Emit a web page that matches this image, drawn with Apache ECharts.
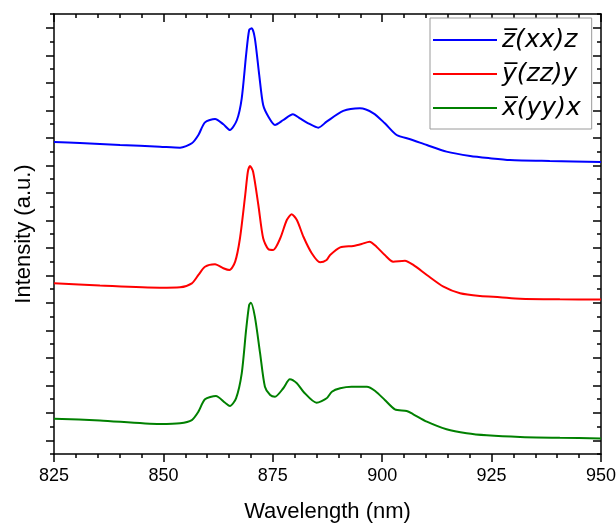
<!DOCTYPE html>
<html>
<head>
<meta charset="utf-8">
<script src="https://cdn.jsdelivr.net/npm/echarts@6/dist/echarts.min.js"></script>
<style>
  html, body { margin: 0; padding: 0; background: #fff; }
  #myChart { width: 616px; height: 523px; }
</style>
</head>
<body>
<div id="myChart"></div>
<script>
// 数据 (intensity in arbitrary units, curves offset vertically)
const blueX = [825, 830.9, 840.1, 849.2, 853.8, 856.5, 858.0, 859.5, 861.8, 863.7, 865.2, 866.8, 867.9, 868.9, 869.6, 870.2, 870.9, 871.9, 872.8, 874.0, 875.5, 877.4, 879.6, 881.2, 883.1, 885.4, 887.3, 891.1, 894.9, 898.0, 900.6, 903.3, 906.4, 910.2, 914.7, 920.1, 924.6, 929.2, 938.3, 950]
const blueY = [22.69, 22.62, 22.47, 22.35, 22.28, 22.60, 23.20, 24.12, 24.36, 23.98, 23.56, 24.29, 25.87, 29.02, 30.84, 30.96, 30.23, 27.56, 25.38, 24.53, 23.93, 24.29, 24.71, 24.41, 24.05, 23.73, 24.17, 24.95, 25.14, 24.78, 24.05, 23.20, 22.89, 22.47, 21.99, 21.67, 21.51, 21.38, 21.31, 21.24]

const redX = [825, 835.5, 849.2, 853.8, 856.5, 858.0, 859.5, 861.8, 863.7, 865.1, 866.4, 867.5, 868.7, 869.3, 869.8, 870.5, 871.7, 872.8, 874.0, 875.1, 876.7, 878.2, 879.3, 880.5, 882.0, 883.9, 885.8, 887.3, 888.1, 890.4, 893.4, 895.3, 897.1, 898.7, 900.6, 902.5, 905.2, 907.1, 910.2, 914.0, 917.8, 922.4, 926.9, 931.5, 940.6, 950]
const redY = [12.41, 12.25, 12.09, 12.12, 12.41, 13.02, 13.62, 13.80, 13.51, 13.38, 13.99, 15.69, 18.84, 20.53, 20.95, 20.53, 18.11, 15.69, 14.89, 14.84, 15.69, 17.02, 17.43, 17.02, 15.80, 14.60, 13.94, 14.11, 14.47, 15.03, 15.13, 15.27, 15.44, 15.08, 14.47, 13.99, 14.06, 13.75, 13.02, 12.17, 11.69, 11.49, 11.40, 11.29, 11.25, 11.24]

const greenX = [825, 835.5, 849.2, 853.8, 856.5, 858.0, 859.5, 862.0, 864.1, 865.2, 866.6, 867.9, 868.9, 869.6, 870.0, 870.9, 872.1, 873.2, 874.4, 875.5, 877.4, 878.9, 880.5, 882.0, 885.0, 887.3, 888.5, 890.4, 893.0, 896.5, 898.4, 900.6, 902.9, 905.6, 907.1, 910.2, 914.7, 919.3, 923.9, 931.5, 940.6, 950]
const greenY = [2.57, 2.44, 2.18, 2.23, 2.47, 3.08, 3.98, 4.22, 3.73, 3.49, 4.05, 5.87, 9.02, 10.84, 11.00, 9.99, 7.32, 4.89, 4.29, 4.17, 4.78, 5.43, 5.14, 4.53, 3.73, 4.05, 4.53, 4.78, 4.89, 4.89, 4.58, 3.93, 3.25, 3.13, 2.89, 2.35, 1.80, 1.51, 1.36, 1.24, 1.18, 1.13]

const seriesNames = ['z\u0305(xx)z', 'y\u0305(zz)y', 'x\u0305(yy)x']
const xTicks = [825, 850, 875, 900, 925, 950]
const yMajorTicks = [1, 3, 5, 7, 9, 11, 13, 15, 17, 19, 21, 23, 25, 27, 29, 31]

const pairs = (xs, ys) => xs.map((x, i) => [x, ys[i]])

let myChart = echarts.init(document.getElementById('myChart'))

const lineStyle = { color: '#000', width: 1.5 }
const baseX = {
    type: 'value',
    min: xTicks[0],
    max: xTicks[xTicks.length - 1],
    interval: 25,
    splitLine: { show: false },
    axisLine: { show: true, onZero: false, lineStyle: lineStyle },
    minorTick: { show: true, splitNumber: 5, length: 4, lineStyle: lineStyle },
}
const baseY = {
    type: 'value',
    min: 0,
    max: 32,
    interval: 1,
    splitLine: { show: false },
    axisLabel: { show: false },
}

let option = {
    animation: false,
    grid: { left: 54, right: 15, top: 14, bottom: 69, containLabel: false, outerBoundsMode: 'none' },
    xAxis: [
        Object.assign({}, baseX, {
            position: 'bottom',
            axisTick: { show: true, inside: false, length: 8, lineStyle: lineStyle },
            axisLabel: { color: '#000', fontSize: 18, fontFamily: 'Liberation Sans', margin: 13 },
            name: 'Wavelength (nm)',
            nameLocation: 'middle',
            nameGap: 47,
            nameTextStyle: { color: '#000', fontSize: 22, fontFamily: 'Liberation Sans' },
        }),
        Object.assign({}, baseX, {
            position: 'top',
            axisTick: { show: true, inside: true, length: 8, lineStyle: lineStyle },
            axisLabel: { show: false },
        }),
    ],
    yAxis: [
        Object.assign({}, baseY, {
            position: 'left',
            axisLine: { show: true, onZero: false, lineStyle: lineStyle },
            axisTick: { show: true, length: 4, lineStyle: lineStyle },
            name: 'Intensity (a.u.)',
            nameLocation: 'middle',
            nameGap: 19,
            nameTextStyle: { color: '#000', fontSize: 22, fontFamily: 'Liberation Sans' },
        }),
        Object.assign({}, baseY, {
            position: 'left',
            axisLine: { show: false },
            axisTick: { show: true, length: 8, customValues: yMajorTicks, lineStyle: lineStyle },
        }),
        Object.assign({}, baseY, {
            position: 'right',
            axisLine: { show: true, onZero: false, lineStyle: lineStyle },
            axisTick: { show: true, inside: true, length: 4, lineStyle: lineStyle },
        }),
        Object.assign({}, baseY, {
            position: 'right',
            axisLine: { show: false },
            axisTick: { show: true, inside: true, length: 8, customValues: yMajorTicks, lineStyle: lineStyle },
        }),
    ],
    legend: {
        orient: 'vertical',
        left: 430,
        top: 18,
        padding: [8, 11, 7, 3],
        itemGap: 6,
        itemWidth: 64,
        itemHeight: 2,
        icon: 'rect',
        backgroundColor: '#fff',
        borderColor: '#9a9a9a',
        borderWidth: 1,
        textStyle: { color: '#000', fontSize: 25, fontStyle: 'italic', fontFamily: 'DejaVu Sans', lineHeight: 28 },
    },
    series: [
        { name: seriesNames[0], data: pairs(blueX, blueY), color: '#0000ff' },
        { name: seriesNames[1], data: pairs(redX, redY), color: '#ff0000' },
        { name: seriesNames[2], data: pairs(greenX, greenY), color: '#008000' },
    ].map(s => Object.assign({
        type: 'line',
        smooth: 0.25,
        showSymbol: false,
        lineStyle: { width: 2 },
        z: 1,
    }, s)),
}
myChart.setOption(option)

window.addEventListener('resize', () => {
    myChart.resize()
})
</script>
</body>
</html>
